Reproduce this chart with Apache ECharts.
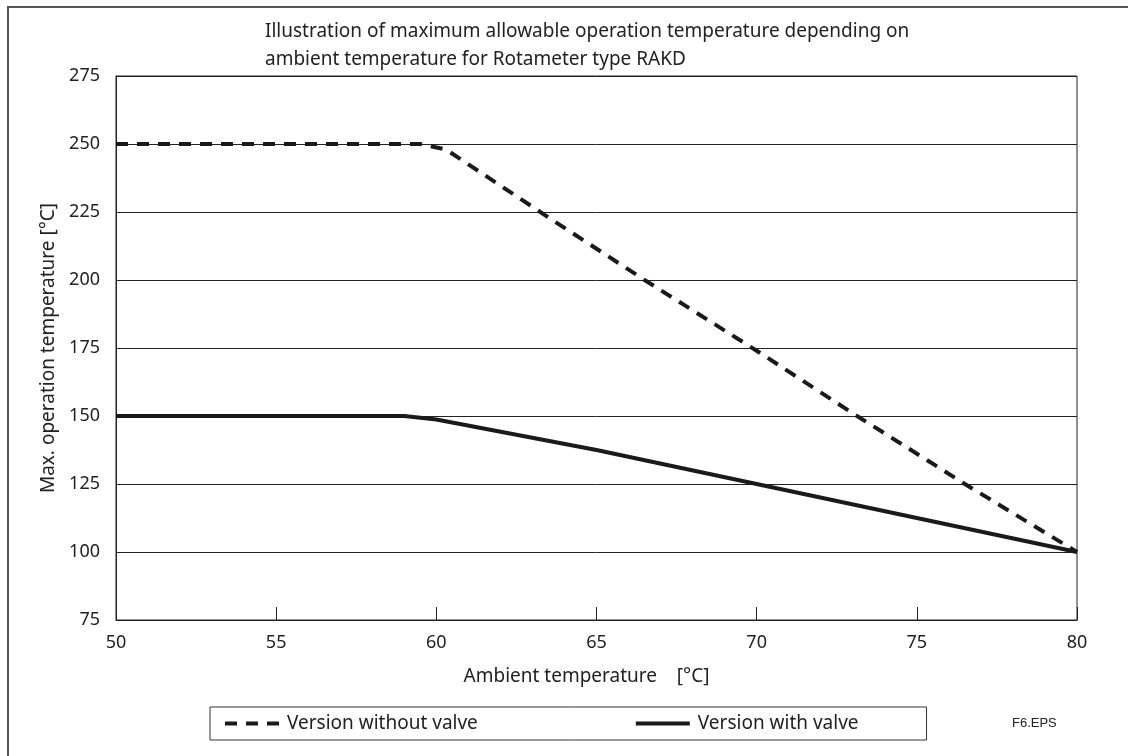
<!DOCTYPE html>
<html>
<head>
    <meta charset="utf-8">
    <title>RAKD temperature</title>
    <script src="https://cdn.jsdelivr.net/npm/echarts@6/dist/echarts.min.js"></script>
    <style>
        html, body { margin: 0; padding: 0; background: #fff; }
        #main { width: 1128px; height: 756px; }
    </style>
</head>
<body>
<div id="main"></div>
<script type="text/javascript">
    // values: [ambient temp, max. operation temp]
    var withoutValve = [[50, 250], [59.5, 250], [60.3, 248], [63.5, 223], [66.5, 200], [70, 174], [73, 151], [76.5, 125], [80, 100]];
    var withValve = [[50, 150], [59, 150], [60, 148.7], [65, 137.5], [70, 125], [75, 112.5], [80, 100]];
    var seriesNames = ['Version without valve', 'Version with valve'];

    var font = '"Noto Sans", sans-serif';
    var myChart = echarts.init(document.getElementById('main'));

    myChart.setOption({
        animation: false,
        backgroundColor: '#fff',
        title: {
            left: 260,
            top: 13,
            padding: 5,
            text: 'Illustration of maximum allowable operation temperature depending on\nambient temperature for Rotameter type RAKD',
            textStyle: { fontFamily: font, fontSize: 19, fontWeight: 'normal', color: '#222', lineHeight: 28 }
        },
        legend: {
            left: 210,
            top: 707,
            data: seriesNames,
            itemWidth: 54,
            itemHeight: 12,
            itemGap: 156,
            padding: [7, 68, 7, 13],
            borderColor: '#333',
            borderWidth: 1,
            itemStyle: { opacity: 0 },
            lineStyle: { width: 4 },
            textStyle: { fontFamily: font, fontSize: 19, color: '#222', padding: [0, 0, 0, 3] }
        },
        grid: {
            left: 116, right: 51, top: 76, bottom: 136,
            show: true, borderColor: '#222', borderWidth: 1
        },
        graphic: [
            {
                type: 'rect', silent: true,
                shape: { x: 8, y: 7, width: 1200, height: 800 },
                style: { fill: 'none', stroke: '#555', lineWidth: 2 }
            },
            {
                type: 'text', left: 1012, top: 717,
                style: { text: 'F6.EPS', fontFamily: '"Liberation Sans", sans-serif', fontSize: 13, fill: '#222' }
            }
        ],
        xAxis: {
            type: 'value',
            min: 50, max: 80, interval: 5,
            name: 'Ambient temperature    [°C]',
            nameLocation: 'middle',
            nameGap: 47,
            nameTextStyle: { fontFamily: font, fontSize: 19, color: '#222', padding: [0, 20, 0, 0] },
            axisLine: { lineStyle: { color: '#222', width: 1 } },
            axisTick: { inside: true, length: 13, lineStyle: { color: '#222' } },
            axisLabel: { fontFamily: font, fontSize: 18, color: '#222', margin: 14 },
            splitLine: { show: false }
        },
        yAxis: {
            type: 'value',
            min: 75, max: 275, interval: 25,
            name: 'Max. operation temperature [°C]',
            nameLocation: 'middle',
            nameGap: 58,
            nameTextStyle: { fontFamily: font, fontSize: 19, color: '#222' },
            axisLine: { show: true, lineStyle: { color: '#222', width: 1 } },
            axisTick: { show: false },
            axisLabel: { fontFamily: font, fontSize: 18, color: '#222', margin: 16 },
            splitLine: { lineStyle: { color: '#222', width: 1 } }
        },
        series: [
            {
                name: seriesNames[0],
                type: 'line',
                symbol: 'none',
                data: withoutValve,
                lineStyle: { color: '#1a1a1a', width: 4, type: [12, 9] },
                itemStyle: { color: '#1a1a1a' }
            },
            {
                name: seriesNames[1],
                type: 'line',
                symbol: 'none',
                data: withValve,
                lineStyle: { color: '#1a1a1a', width: 4 },
                itemStyle: { color: '#1a1a1a' }
            }
        ]
    });
</script>
</body>
</html>
